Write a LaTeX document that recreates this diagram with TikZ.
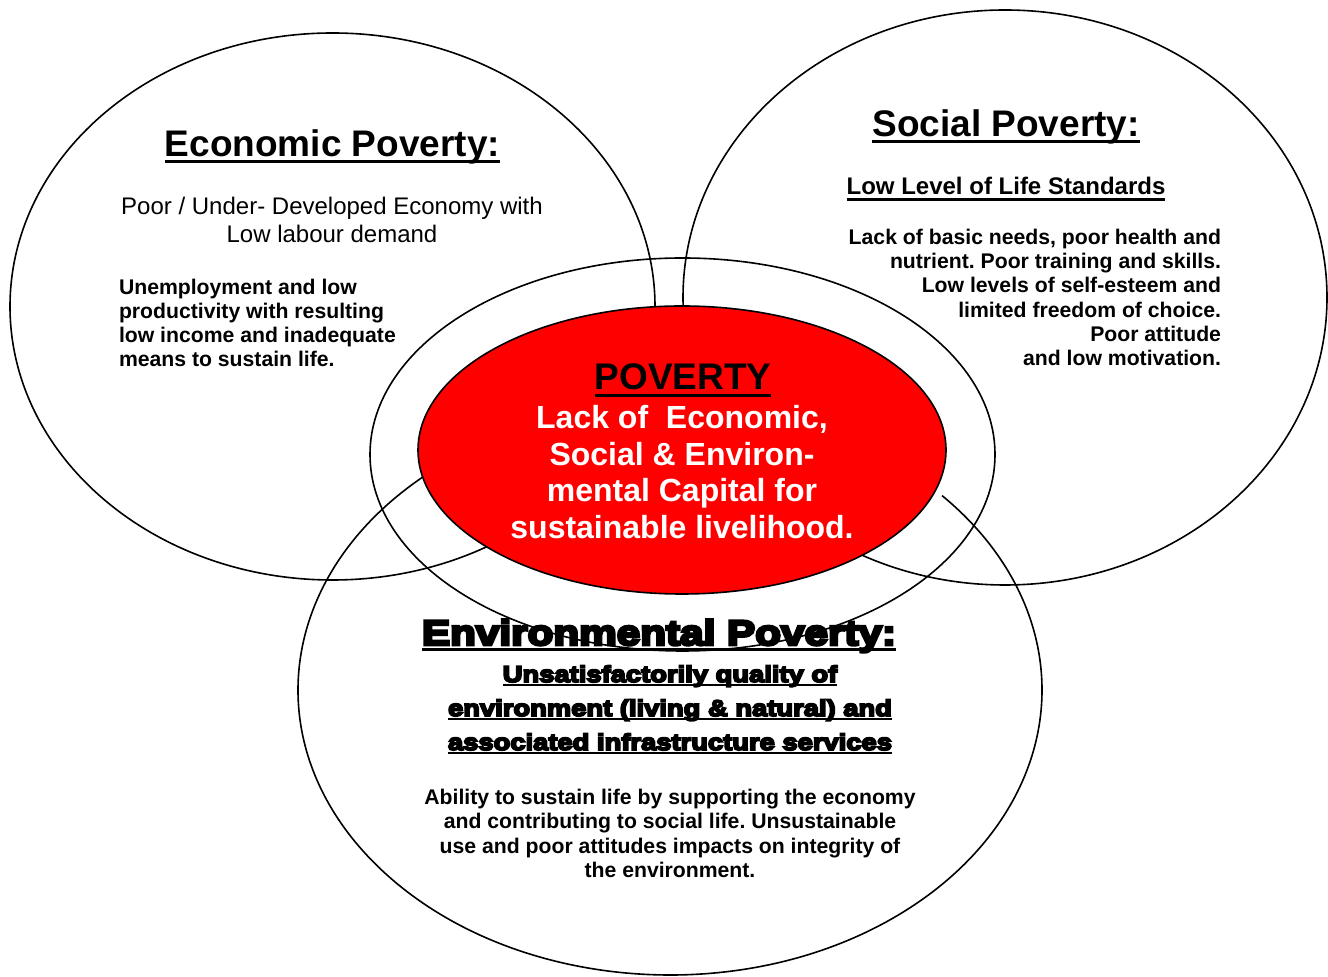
\documentclass[tikz,border=0pt]{standalone}
\usepackage{fontspec}
\setmainfont{Liberation Sans}
\newfontfamily\heavyfont[BoldFeatures={FakeBold=8,FakeStretch=1.2}]{Liberation Sans}
\usetikzlibrary{shapes.geometric}
\definecolor{povred}{RGB}{255,0,0}
\newcommand\ulbox[3]{\setbox0=\hbox{#3}\rlap{\rule[-#1]{\wd0}{#2}}\box0}
\newcommand\firststrut[1]{\rule{0pt}{#1}}
\frenchspacing
\begin{document}
\frenchspacing
\begin{tikzpicture}[x=1pt,y=1pt,
  ell/.style={draw=black, line width=1.6pt, ellipse, inner sep=0pt},
  ln/.style={draw=black, line width=1.6pt},
  txt/.style={inner sep=0pt, outer sep=0pt},
  title/.style={txt, font=\bfseries\fontsize{37}{42}\selectfont},
  plain/.style={txt, font=\fontsize{24}{28}\selectfont},
  body/.style={txt, font=\bfseries\fontsize{21.2}{24}\selectfont},
  socbody/.style={txt, font=\bfseries\fontsize{21.2}{24.2}\selectfont},
  sub/.style={txt, font=\bfseries\fontsize{24}{28}\selectfont},
  coretxt/.style={txt, text=white, font=\bfseries\fontsize{32}{36.7}\selectfont},
  heavytitle/.style={txt, font=\heavyfont\bfseries\fontsize{35.2}{40}\selectfont},
  heavysub/.style={txt, font=\heavyfont\bfseries\fontsize{22.8}{34}\selectfont},
  envbody/.style={txt, font=\bfseries\fontsize{21.2}{24.5}\selectfont}
]
\useasboundingbox (0,0) rectangle (1328,977);

% circles
\node[ell, minimum width=645pt, minimum height=547pt] (econ) at (332.5,670.5) {};
\node[ell, minimum width=644pt, minimum height=575pt] (soc) at (1005,679.5) {};
\coordinate (envc) at (670,287);
\draw[ln] (envc) ++(130:372pt and 285pt)
  arc[start angle=130, end angle=403, x radius=372pt, y radius=285pt];
\node[ell, minimum width=625pt, minimum height=393pt] (mid) at (682.5,522.5) {};
\node[ell, fill=povred, minimum width=528pt, minimum height=288pt] (core) at (682,527) {};

% economic
\node[title, anchor=base] (econtitle) at (332.5,820)
  {\ulbox{6pt}{3.2pt}{Economic Poverty:}};
\node[plain, anchor=north, align=center] (econsub) at (332,781.5)
  {\firststrut{19pt}Poor / Under- Developed Economy with\\Low labour demand};
\node[body, anchor=north west, align=left] (econbody) at (119,699.5)
  {\firststrut{17pt}Unemployment and low\\productivity with resulting\\low income and inadequate\\means to sustain life.};

% social
\node[title, anchor=base] (soctitle) at (1006,840)
  {\ulbox{6pt}{3.2pt}{Social Poverty:}};
\node[sub, anchor=base] (soclow) at (1006,782.5)
  {\ulbox{6.5pt}{2.5pt}{Low Level of Life Standards}};
\node[socbody, anchor=north east, align=right] (socbody) at (1221,749.5)
  {\firststrut{17pt}Lack of basic needs, poor health and\\nutrient. Poor training and skills.\\Low levels of self-esteem and\\limited freedom of choice.\\Poor attitude\\and low motivation.};

% core
\node[title, anchor=base] (povtitle) at (683,587)
  {\ulbox{7.3pt}{3.3pt}{POVERTY}};
\node[coretxt, anchor=north, align=center] (coretext) at (682,573.5)
  {\firststrut{25pt}Lack of~ Economic,\\Social \& Environ-\\mental Capital for\\sustainable livelihood.};

% environmental
\node[heavytitle, anchor=base] (envtitle) at (659,332)
  {\ulbox{6pt}{3pt}{Environmental Poverty:}};
\node[heavysub, anchor=north, align=center] (envsub) at (670,313)
  {\firststrut{18pt}\ulbox{4.3pt}{2.5pt}{Unsatisfactorily quality of}\\
   \ulbox{4.3pt}{2.5pt}{environment (living \& natural) and}\\
   \ulbox{4.3pt}{2.5pt}{associated infrastructure services}};
\node[envbody, anchor=north, align=center] (envtext) at (670,189.5)
  {\firststrut{17pt}Ability to sustain life by supporting the economy\\and contributing to social life. Unsustainable\\use and poor attitudes impacts on integrity of\\the environment.};
\end{tikzpicture}
\end{document}
